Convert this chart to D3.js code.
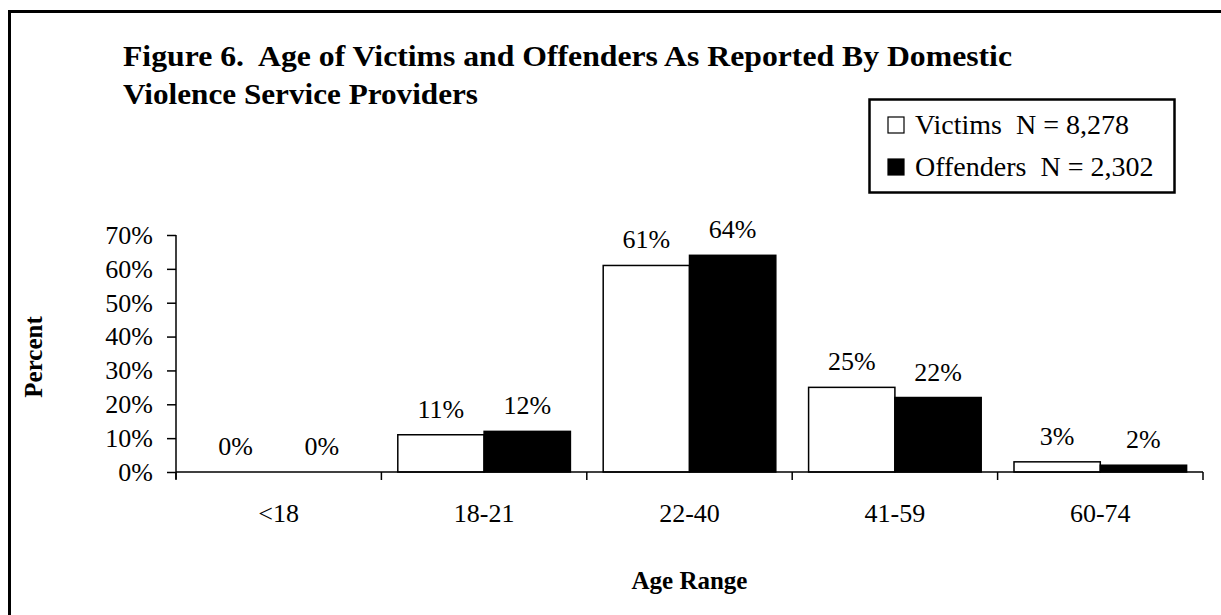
<!DOCTYPE html>
<html>
<head>
<meta charset="utf-8">
<script src="https://cdn.jsdelivr.net/npm/d3@7"></script>
<style>
  body { margin: 0; background: #fff; }
  svg { display: block; font-family: "Liberation Serif", "Times New Roman", serif; }
  text { white-space: pre; }
</style>
</head>
<body>
<svg id="vis"></svg>
<script>
const plotWidth = 1221;
const plotHeight = 615;

const ageRanges = ['<18', '18-21', '22-40', '41-59', '60-74'];
const victims = [0, 11, 61, 25, 3];
const offenders = [0, 12, 64, 22, 2];
const seriesNames = ['Victims  N = 8,278', 'Offenders  N = 2,302'];
const yTicks = [0, 10, 20, 30, 40, 50, 60, 70];

const svg = d3.select('#vis')
    .attr('width', plotWidth)
    .attr('height', plotHeight);

const plotLeft = 176, plotRight = 1203, plotTop = 235, plotBottom = 472;

// outer frame, cut off at the right and bottom like the scan
svg.append('rect')
    .attr('x', 9.5).attr('y', 11.5)
    .attr('width', 1240).attr('height', 640)
    .attr('fill', 'none').attr('stroke', '#000').attr('stroke-width', 3);

// title (scan is stretched a little, so fit each line to its width)
svg.append('text')
    .attr('x', 123).attr('y', 66)
    .attr('font-size', 29).attr('font-weight', 'bold')
    .attr('textLength', 889).attr('lengthAdjust', 'spacingAndGlyphs')
    .text('Figure 6.  Age of Victims and Offenders As Reported By Domestic');
svg.append('text')
    .attr('x', 123).attr('y', 104)
    .attr('font-size', 29).attr('font-weight', 'bold')
    .attr('textLength', 355).attr('lengthAdjust', 'spacingAndGlyphs')
    .text('Violence Service Providers');

const x = d3.scaleBand().domain(ageRanges).range([plotLeft, plotRight]).paddingInner(0).paddingOuter(0);
const x1 = d3.scaleBand().domain([0, 1]).range([0, x.bandwidth()]).paddingInner(0).paddingOuter(0.19);
const y = d3.scaleLinear().domain([0, 70]).range([plotBottom, plotTop]);

const rows = ageRanges.map((a, i) => ({ age: a, vals: [victims[i], offenders[i]] }));

const groups = svg.selectAll('g.cat').data(rows).enter()
    .append('g').attr('class', 'cat')
    .attr('transform', d => `translate(${x(d.age)},0)`);

groups.selectAll('rect').data(d => d.vals.map((v, k) => ({ v, k }))).enter()
    .append('rect')
    .attr('x', d => x1(d.k))
    .attr('y', d => y(d.v))
    .attr('width', x1.bandwidth())
    .attr('height', d => plotBottom - y(d.v))
    .attr('fill', d => d.k === 0 ? '#fff' : '#000')
    .attr('stroke', '#000').attr('stroke-width', 1.5);

groups.selectAll('text.val').data(d => d.vals.map((v, k) => ({ v, k }))).enter()
    .append('text').attr('class', 'val')
    .attr('x', d => x1(d.k) + x1.bandwidth() / 2)
    .attr('y', d => y(d.v) - 17)
    .attr('text-anchor', 'middle').attr('font-size', 26)
    .text(d => d.v + '%');

// y axis
const yAxis = svg.append('g')
    .attr('transform', `translate(${plotLeft},0)`)
    .call(d3.axisLeft(y).tickValues(yTicks).tickFormat(d => d + '%').tickSize(9).tickPadding(14));
yAxis.select('.domain').attr('d', `M0,${plotTop}V${plotBottom + 7}`).attr('stroke-width', 1.5);
yAxis.selectAll('line').attr('stroke-width', 1.5);
yAxis.selectAll('text').attr('font-size', 26).attr('font-family', 'Liberation Serif').attr('fill', '#000');

// x axis with ticks at category boundaries
const xAxis = svg.append('g');
xAxis.append('line')
    .attr('x1', plotLeft).attr('x2', plotRight).attr('y1', plotBottom).attr('y2', plotBottom)
    .attr('stroke', '#000').attr('stroke-width', 1.5);
xAxis.selectAll('line.tick').data(ageRanges.concat(['end'])).enter()
    .append('line').attr('class', 'tick')
    .attr('x1', (d, i) => plotLeft + i * x.bandwidth()).attr('x2', (d, i) => plotLeft + i * x.bandwidth())
    .attr('y1', plotBottom).attr('y2', plotBottom + 8)
    .attr('stroke', '#000').attr('stroke-width', 1.5);
xAxis.selectAll('text').data(ageRanges).enter()
    .append('text')
    .attr('x', d => x(d) + x.bandwidth() / 2)
    .attr('y', 522)
    .attr('text-anchor', 'middle').attr('font-size', 26)
    .text(d => d);

// axis titles
svg.append('text')
    .attr('transform', 'translate(42,357) rotate(-90)')
    .attr('text-anchor', 'middle').attr('font-size', 25).attr('font-weight', 'bold')
    .text('Percent');
svg.append('text')
    .attr('x', (plotLeft + plotRight) / 2).attr('y', 589)
    .attr('text-anchor', 'middle').attr('font-size', 25).attr('font-weight', 'bold')
    .text('Age Range');

// legend
const legend = svg.append('g');
legend.append('rect')
    .attr('x', 869.5).attr('y', 99.5).attr('width', 305).attr('height', 93)
    .attr('fill', '#fff').attr('stroke', '#000').attr('stroke-width', 2.5);
seriesNames.forEach((name, k) => {
    const cy = 125 + k * 42;
    legend.append('rect')
        .attr('x', 888).attr('y', cy - 8).attr('width', 16).attr('height', 16)
        .attr('fill', k === 0 ? '#fff' : '#000').attr('stroke', '#000').attr('stroke-width', 1.2);
    legend.append('text')
        .attr('x', 915).attr('y', cy + 9)
        .attr('font-size', 28)
        .text(name);
});
</script>
</body>
</html>
